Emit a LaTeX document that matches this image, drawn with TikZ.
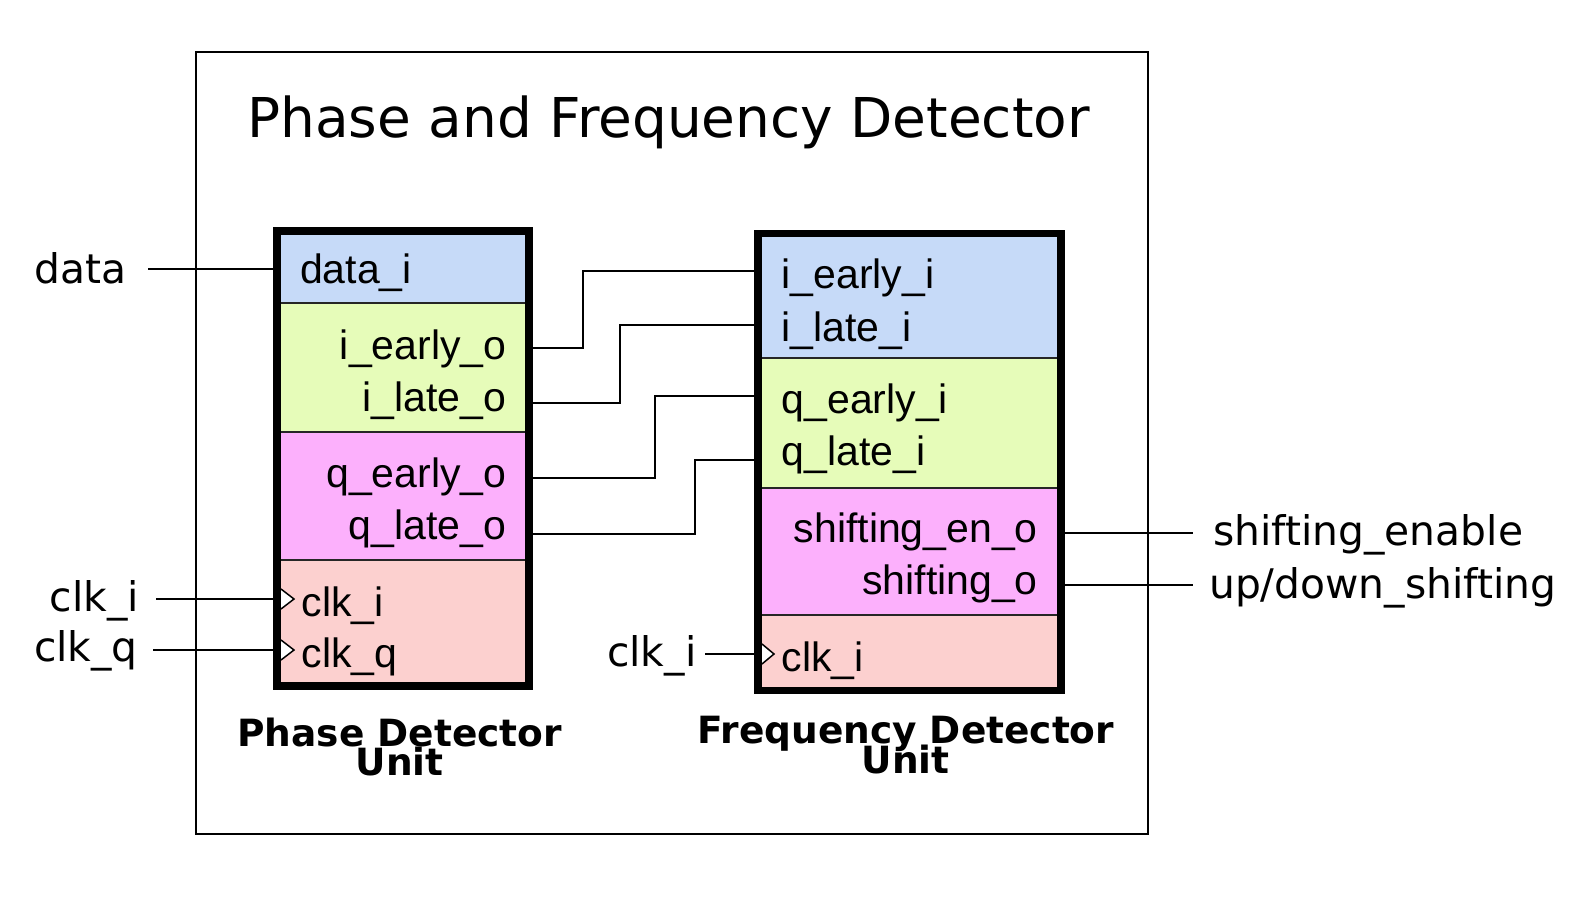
\documentclass[tikz,border=0pt]{standalone}
\usepackage{fontspec}
\setmainfont{DejaVu Sans}
\newfontfamily\blockfont{Liberation Sans}
\definecolor{cblue}{RGB}{198,218,248}
\definecolor{cgreen}{RGB}{230,252,185}
\definecolor{cmag}{RGB}{252,176,252}
\definecolor{cpink}{RGB}{252,208,207}
\begin{document}
\begin{tikzpicture}[x=1pt,y=-1pt,
  wire/.style={line width=2pt},
  sepline/.style={line width=2pt, black!85},
  border/.style={line width=7.5pt},
  port/.style={font=\blockfont\fontsize{41}{49}\selectfont, inner sep=0pt},
  ext/.style={font=\fontsize{40.8}{48}\selectfont, inner sep=0pt},
  unitlabel/.style={font=\bfseries\fontsize{37.5}{45}\selectfont, inner sep=0pt},
  clktri/.style={line width=1.5pt, fill=white, line join=miter}]
\useasboundingbox (0,0) rectangle (1579,910);
\fill[white] (0,0) rectangle (1579,910);

% outer frame and title
\draw[line width=2pt] (195.5,51.5) rectangle (1148,834);
\node[font=\fontsize{54.9}{64}\selectfont, inner sep=0pt, anchor=base] (title) at (668.6,137) {Phase and Frequency Detector};

% port coordinates
\coordinate (pd-data) at (277,269);
\coordinate (pd-ieo) at (529,348.4);
\coordinate (pd-ilo) at (529,403);
\coordinate (pd-qeo) at (529,478);
\coordinate (pd-qlo) at (529,534);
\coordinate (pd-clki) at (281,599);
\coordinate (pd-clkq) at (281,650);
\coordinate (fd-iei) at (758,271);
\coordinate (fd-ili) at (758,325);
\coordinate (fd-qei) at (758,396);
\coordinate (fd-qli) at (758,460);
\coordinate (fd-sen) at (1061,533);
\coordinate (fd-sho) at (1061,585);
\coordinate (fd-clki) at (762,654);
\coordinate (in-data) at (148,269);
\coordinate (in-clki) at (156,599);
\coordinate (in-clkq) at (153,650);
\coordinate (in-fdclk) at (705,654);
\coordinate (out-sen) at (1193,533);
\coordinate (out-sho) at (1193,585);

% wires
\draw[wire] (in-data) -- (pd-data);
\draw[wire] (in-clki) -- (pd-clki);
\draw[wire] (in-clkq) -- (pd-clkq);
\draw[wire] (in-fdclk) -- (fd-clki);
\draw[wire] (pd-ieo) -- ++(54,0) |- (fd-iei);
\draw[wire] (pd-ilo) -- ++(90.5,0) |- (fd-ili);
\draw[wire] (pd-qeo) -- ++(125.5,0) |- (fd-qei);
\draw[wire] (pd-qlo) -- ++(166,0) |- (fd-qli);
\draw[wire] (fd-sen) -- (out-sen);
\draw[wire] (fd-sho) -- (out-sho);

% Phase detector block
\fill[cblue]  (277,231) rectangle (529,303);
\fill[cgreen] (277,303) rectangle (529,432);
\fill[cmag]   (277,432) rectangle (529,560);
\fill[cpink]  (277,560) rectangle (529,686);
\draw[sepline] (277,303) -- (529,303);
\draw[sepline] (277,432) -- (529,432);
\draw[sepline] (277,560) -- (529,560);
\draw[border] (277,231) rectangle (529,686);

% Frequency detector block
\fill[cblue]  (758,233.5) rectangle (1061,357.5);
\fill[cgreen] (758,357.5) rectangle (1061,488);
\fill[cmag]   (758,488) rectangle (1061,615);
\fill[cpink]  (758,615) rectangle (1061,690.5);
\draw[sepline] (758,357.5) -- (1061,357.5);
\draw[sepline] (758,488) -- (1061,488);
\draw[sepline] (758,615) -- (1061,615);
\draw[border] (758,233.5) rectangle (1061,690.5);

% clock triangles
\draw[clktri] (281,589) -- (294,599) -- (281,609);
\draw[clktri] (281,640) -- (294,650) -- (281,660);
\draw[clktri] (762,644) -- (774,654) -- (762,664);

% port labels
\node[port, anchor=base west] (l-datai) at (300,283) {data\_i};
\node[port, anchor=base east] (l-ieo) at (506.5,359.5) {i\_early\_o};
\node[port, anchor=base east] (l-ilo) at (506.5,411.5) {i\_late\_o};
\node[port, anchor=base east] (l-qeo) at (506.5,487) {q\_early\_o};
\node[port, anchor=base east] (l-qlo) at (506.5,539) {q\_late\_o};
\node[port, anchor=base west] (l-clki) at (301.5,616) {clk\_i};
\node[port, anchor=base west] (l-clkq) at (301.5,667.5) {clk\_q};
\node[port, anchor=base west] (r-iei) at (781.5,288) {i\_early\_i};
\node[port, anchor=base west] (r-ili) at (781.5,341) {i\_late\_i};
\node[port, anchor=base west] (r-qei) at (781.5,413) {q\_early\_i};
\node[port, anchor=base west] (r-qli) at (781.5,465) {q\_late\_i};
\node[port, anchor=base east] (r-sen) at (1038,542) {shifting\_en\_o};
\node[port, anchor=base east] (r-sho) at (1038,594.5) {shifting\_o};
\node[port, anchor=base west] (r-clki) at (781.5,671.5) {clk\_i};

% external labels
\node[ext, anchor=base west] (x-data) at (34.5,283) {data};
\node[ext, anchor=base east] (x-clki) at (139,611) {clk\_i};
\node[ext, anchor=base east] (x-clkq) at (138,661) {clk\_q};
\node[ext, anchor=base west] (x-fdclk) at (607,666.5) {clk\_i};
\node[ext, anchor=base west] (x-sen) at (1213,545) {shifting\_enable};
\node[ext, anchor=base west] (x-sho) at (1209,598) {up/down\_shifting};

% unit labels
\node[unitlabel, anchor=base] (pdu1) at (399.8,746) {Phase Detector};
\node[unitlabel, anchor=base] (pdu2) at (399.8,775) {Unit};
\node[unitlabel, anchor=base] (fdu1) at (905.8,743) {Frequency Detector};
\node[unitlabel, anchor=base] (fdu2) at (905.8,773) {Unit};
\end{tikzpicture}
\end{document}
